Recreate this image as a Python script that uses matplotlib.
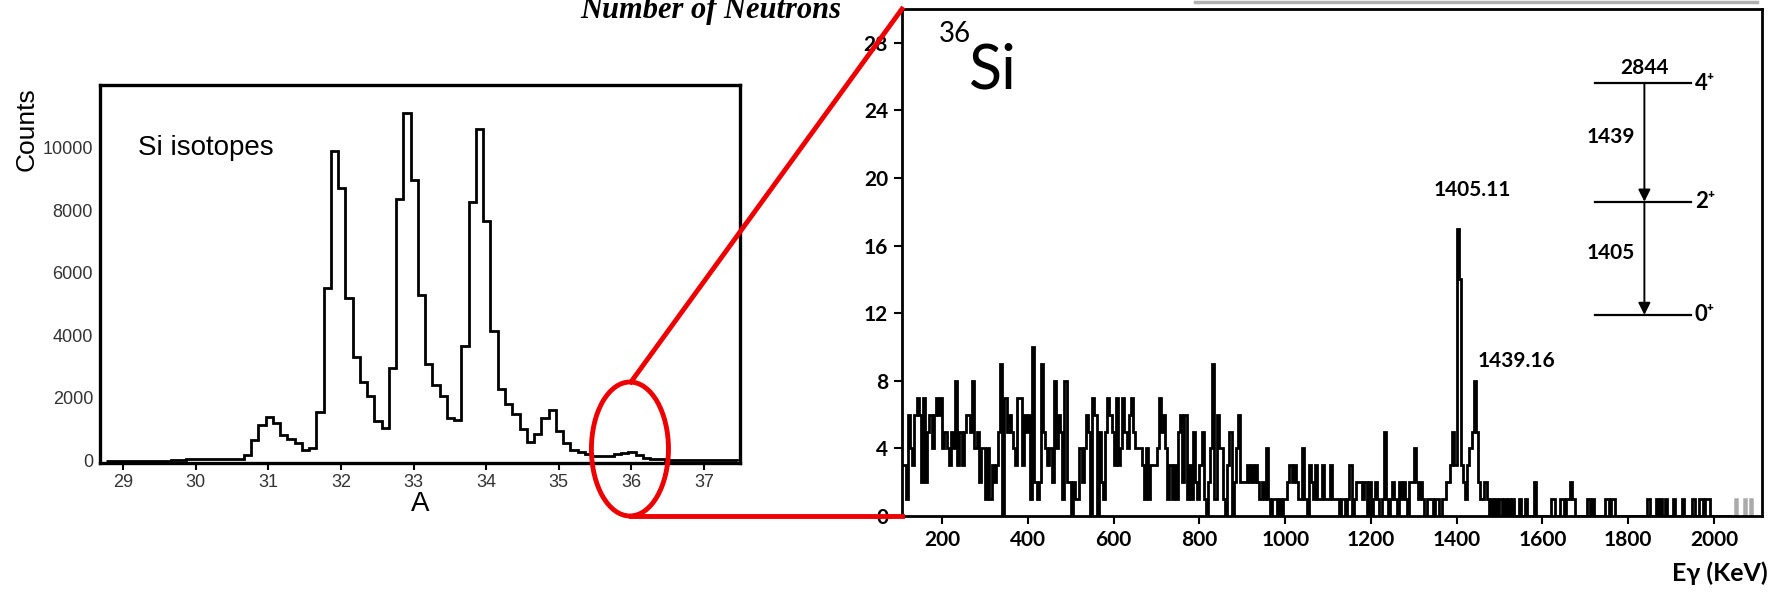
import numpy as np
import matplotlib
matplotlib.use('agg')
import matplotlib.pyplot as plt
from matplotlib.patches import Ellipse
from matplotlib.lines import Line2D

# Si isotope mass spectrum: bins of 0.1 in A, first bin starts at 28.76
mass_start = 28.76
mass_width = 0.1
mass_counts = [0, 0, 0, 0, 0, 0, 0, 0, 0, 10,
               20, 40, 50, 50, 40, 40, 40, 40, 60, 180,
               650, 1150, 1400, 1200, 800, 700, 550, 350, 400, 1550,
               5500, 9900, 8700, 5200, 3300, 2500, 2050, 1250, 1050, 2950,
               8350, 11100, 8950, 5300, 3100, 2400, 2050, 1350, 1300, 3650,
               8250, 10600, 7650, 4150, 2300, 1800, 1500, 1000, 600, 850,
               1350, 1600, 950, 550, 350, 280, 200, 150, 140, 150,
               200, 250, 280, 170, 90, 50, 40, 30, 30, 20,
               20, 20, 20, 15, 15, 10, 10]
mass_ticks = [29, 30, 31, 32, 33, 34, 35, 36, 37]
count_ticks = [0, 2000, 4000, 6000, 8000, 10000]

# 36Si gamma spectrum: 5 keV bins from 100 keV, one row per 100 keV
gamma_start = 100
gamma_width = 5
gamma_rows = [
    [0, 3, 3, 1, 6, 4, 3, 6, 7, 6, 2, 7, 2, 5, 6, 4, 6, 7, 6, 7],
    [4, 5, 4, 3, 5, 4, 8, 3, 5, 3, 5, 6, 6, 5, 8, 4, 5, 2, 4, 4],
    [1, 4, 1, 3, 2, 3, 5, 9, 0, 7, 5, 6, 5, 4, 3, 7, 7, 3, 6, 5],
    [6, 1, 10, 2, 1, 2, 9, 5, 4, 3, 4, 2, 8, 4, 6, 5, 1, 8, 2, 2],
    [0, 2, 1, 1, 4, 2, 4, 6, 5, 0, 7, 6, 0, 5, 2, 1, 5, 7, 6, 5],
    [3, 7, 3, 4, 7, 5, 4, 6, 7, 5, 4, 4, 4, 3, 1, 4, 1, 3, 3, 3],
    [4, 7, 5, 6, 4, 1, 3, 1, 3, 1, 5, 6, 2, 6, 1, 3, 1, 5, 2, 1],
    [3, 5, 1, 0, 2, 4, 9, 1, 6, 4, 4, 1, 0, 3, 5, 0, 2, 4, 6, 2],
    [2, 2, 3, 2, 3, 2, 3, 2, 1, 2, 1, 4, 1, 0, 1, 1, 0, 1, 0, 1],
    [1, 2, 3, 2, 3, 2, 1, 1, 4, 1, 0, 3, 2, 1, 3, 1, 1, 3, 1, 1],
    [1, 3, 1, 1, 1, 0, 1, 1, 0, 1, 3, 0, 1, 2, 2, 2, 1, 2, 0, 2],
    [0, 1, 2, 1, 0, 1, 5, 1, 0, 1, 2, 1, 0, 2, 1, 2, 1, 0, 2, 2],
    [4, 2, 1, 2, 1, 0, 1, 1, 1, 0, 1, 1, 0, 1, 1, 2, 2, 3, 5, 3],
    [17, 14, 3, 2, 1, 3, 4, 5, 8, 5, 2, 1, 1, 2, 1, 0, 1, 0, 1, 0],
    [1, 0, 1, 0, 1, 0, 1, 0, 0, 1, 0, 0, 1, 0, 0, 0, 2, 0, 0, 0],
    [0, 0, 0, 0, 1, 1, 0, 0, 1, 1, 0, 1, 1, 2, 1, 0, 0, 0, 0, 0],
    [0, 1, 0, 1, 0, 0, 0, 0, 0, 1, 1, 0, 1, 1, 0, 0, 0, 0, 0, 0],
    [0, 0, 0, 0, 0, 0, 0, 0, 0, 1, 0, 0, 0, 1, 0, 1, 0, 1, 0, 0],
    [0, 1, 0, 0, 0, 1, 0, 0, 0, 0, 1, 0, 0, 1, 1, 0, 1, 1, 0, 0],
    [0, 0, 0, 0, 0, 0, 0, 0, 0, 0, 1, 0, 0, 0, 1, 0, 0, 1, 0, 0],
]
gray_from = 2040  # tail of the spectrum drawn in gray
energy_ticks = [200, 400, 600, 800, 1000, 1200, 1400, 1600, 1800, 2000]
gamma_yticks = [0, 4, 8, 12, 16, 20, 24, 28]

# level scheme (spin label, y position in counts units)
levels = [('4⁺', 25.6), ('2⁺', 18.6), ('0⁺', 11.9)]
transitions = ['1439', '1405']
peak_labels = [('1405.11', 1436, 19.3), ('1439.16', 1540, 9.2)]

lsans = ['Liberation Sans', 'DejaVu Sans']
gfont = ['Lato', 'DejaVu Sans']

fig = plt.figure(figsize=(17.8, 5.94), dpi=100)

# ---- left panel: mass spectrum
ax1 = fig.add_axes([0.0562, 0.2205, 0.3596, 0.6364])
mass_edges = mass_start + mass_width * np.arange(len(mass_counts) + 1)
ax1.stairs(mass_counts, mass_edges, color='black', lw=2.0, baseline=0)
ax1.set_xlim(28.68, 37.5)
ax1.set_ylim(-80, 12000)
ax1.set_xticks(mass_ticks)
ax1.set_yticks(count_ticks)
for s in ax1.spines.values():
    s.set_linewidth(2.4)
ax1.tick_params(axis='x', length=5, width=1.5, pad=3, labelsize=13, labelcolor='#333333')
ax1.tick_params(axis='y', length=0, pad=5, labelsize=13, labelcolor='#333333')
for lab in ax1.get_xticklabels() + ax1.get_yticklabels():
    lab.set_family(lsans)
ax1.set_xlabel('A', family=lsans, fontsize=20, labelpad=0)
fig.text(27 / 1780, 1 - 129 / 594, 'Counts', rotation=90, family=lsans, fontsize=19,
         ha='center', va='center')
ax1.text(29.2, 10000, 'Si isotopes', family=lsans, fontsize=20, va='center')

# ---- right panel: gamma spectrum
ax2 = fig.add_axes([0.5067, 0.1313, 0.4831, 0.8535])
gamma_counts = np.concatenate(gamma_rows)
gamma_edges = gamma_start + gamma_width * np.arange(len(gamma_counts) + 1)
cut = int((gray_from - gamma_start) / gamma_width)
ax2.stairs(gamma_counts[:cut], gamma_edges[:cut + 1], color='black', lw=2.0, baseline=0)
ax2.stairs(gamma_counts[cut:], gamma_edges[cut:], color='#aaaaaa', lw=1.8, baseline=0)
ax2.set_xlim(106, 2112)
ax2.set_ylim(0, 30)
ax2.set_xticks(energy_ticks)
ax2.set_yticks(gamma_yticks)
for s in ax2.spines.values():
    s.set_linewidth(2.0)
ax2.tick_params(length=6, width=1.5, pad=4, labelsize=15)
for lab in ax2.get_xticklabels() + ax2.get_yticklabels():
    lab.set_family(gfont)
    lab.set_fontweight('bold')

ax2.text(192, 29.3, '36', family=gfont, fontsize=20, va='top', ha='left')
ax2.text(262, 25.3, 'Si', family=gfont, fontsize=44, va='baseline', ha='left')

lvl_x0, lvl_x1, arr_x = 1722, 1946, 1838
for name, y in levels:
    ax2.plot([lvl_x0, lvl_x1], [y, y], color='black', lw=1.6)
    ax2.text(lvl_x1 + 10, y, name, fontsize=16, fontweight='bold', family=gfont,
             va='center', ha='left')
ax2.text(arr_x, levels[0][1] + 0.3, '2844', fontsize=15, fontweight='bold', family=gfont,
         ha='center', va='bottom')
for i, lab in enumerate(transitions):
    y_top, y_bot = levels[i][1], levels[i + 1][1]
    ax2.annotate('', xy=(arr_x, y_bot), xytext=(arr_x, y_top),
                 arrowprops=dict(arrowstyle='-|>', color='black', lw=1.4,
                                 mutation_scale=18, shrinkA=0, shrinkB=0))
    ax2.text(arr_x - 22, (y_top + y_bot) / 2 + 0.3, lab, fontsize=15, fontweight='bold',
             family=gfont, ha='right', va='center')
for lab, x, y in peak_labels:
    ax2.text(x, y, lab, fontsize=15, fontweight='bold', family=gfont, ha='center', va='center')

fig.text(1768 / 1780, 1 - 573 / 594, 'Eγ (KeV)', fontsize=18, fontweight='bold',
         family=gfont, ha='right', va='center')

# ---- zoom annotation and top decorations
red = '#ee0000'
fig.add_artist(Ellipse((0.3539, 0.2441), 0.0433, 0.2256, transform=fig.transFigure,
                       fill=False, edgecolor=red, lw=3.5, zorder=10))
fig.add_artist(Line2D([0.3545, 0.5067], [0.357, 0.9848], transform=fig.transFigure,
                      color=red, lw=3.5, zorder=10))
fig.add_artist(Line2D([0.3545, 0.5067], [0.1313, 0.1313], transform=fig.transFigure,
                      color=red, lw=3.5, zorder=10))
fig.add_artist(Line2D([1195 / 1780, 1757 / 1780], [1 - 1.5 / 594, 1 - 1.5 / 594],
                      transform=fig.transFigure, color='#b0b0b0', lw=2.5))
fig.text(711 / 1780, 1 - 18 / 594, 'Number of Neutrons', family='Liberation Serif',
         style='italic', fontweight='bold', fontsize=22, ha='center', va='baseline')

fig.savefig('out.png', dpi=100)
plt.close(fig)
